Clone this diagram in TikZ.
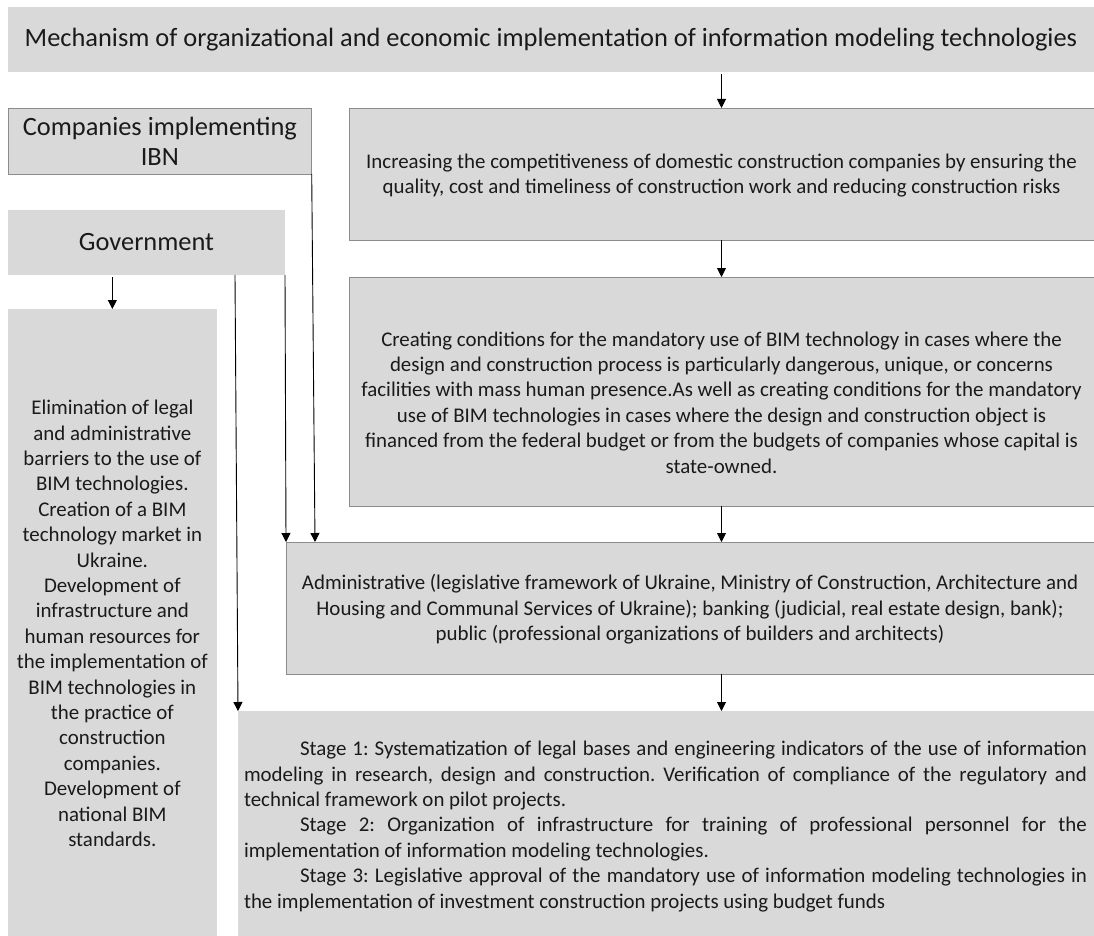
\documentclass[tikz,border=0pt]{standalone}
\usepackage{fontspec}
\setmainfont{Carlito}
\usetikzlibrary{arrows.meta}
\frenchspacing
\definecolor{boxgray}{HTML}{D9D9D9}
\definecolor{edgegray}{HTML}{8C8C8C}
\definecolor{txt}{HTML}{1A1A1A}
\newcommand{\lowered}[2]{\raisebox{-#1}[\height][\depth]{\begin{tabular}{@{}c@{}}#2\end{tabular}}}
\tikzset{
  box/.style={fill=boxgray, inner sep=0pt, outer sep=0pt, anchor=north west, text=txt},
  edged/.style={box, draw=edgegray, line width=0.9pt},
  bigtext/.style={font=\fontsize{26.4}{30}\selectfont, align=center},
  smalltext/.style={font=\fontsize{20.9}{25.4}\selectfont, align=center},
  arr/.style={-{Triangle[width=9pt,length=9pt]}, line width=0.9pt, black},
}
\begin{document}
\begin{tikzpicture}[x=1pt,y=-1pt]
\useasboundingbox (0,0) rectangle (1094,936);
\fill[white] (0,0) rectangle (1094,936);

\node[box, bigtext, minimum width=1086pt, minimum height=65pt] (title) at (8,7)
  {Mechanism of organizational and economic implementation of information modeling technologies};

\node[edged, bigtext, minimum width=303.7pt, minimum height=66pt] (comp) at (8,108)
  {Companies implementing\\IBN};

\node[box, bigtext, minimum width=277pt, minimum height=65pt] (gov) at (8,210)
  {Government};

\node[box, smalltext, minimum width=208.7pt, minimum height=627pt] (lft) at (8,309)
  {\lowered{3pt}{Elimination of legal\\and administrative\\barriers to the use of\\BIM technologies.\\Creation of a BIM\\technology market in\\Ukraine.\\Development of\\infrastructure and\\human resources for\\the implementation of\\BIM technologies in\\the practice of\\construction\\companies.\\Development of\\national BIM\\standards.}};

\node[edged, smalltext, minimum width=745pt, minimum height=132pt] (inc) at (349,108)
  {\lowered{2pt}{Increasing the competitiveness of domestic construction companies by ensuring the\\quality, cost and timeliness of construction work and reducing construction risks}};

\node[edged, smalltext, minimum width=745pt, minimum height=229pt] (cre) at (349,277)
  {\lowered{13pt}{Creating conditions for the mandatory use of BIM technology in cases where the\\design and construction process is particularly dangerous, unique, or concerns\\facilities with mass human presence.As well as creating conditions for the mandatory\\use of BIM technologies in cases where the design and construction object is\\financed from the federal budget or from the budgets of companies whose capital is\\state-owned.}};

\node[edged, smalltext, minimum width=808pt, minimum height=132pt] (adm) at (286,542)
  {\lowered{2pt}{Administrative (legislative framework of Ukraine, Ministry of Construction, Architecture and\\Housing and Communal Services of Ukraine); banking (judicial, real estate design, bank);\\public (professional organizations of builders and architects)}};

\node[box, minimum width=856pt, minimum height=225pt] (bot) at (238,711)
  {\hspace*{6pt}\begin{minipage}{843pt}\fontsize{20.9}{25.4}\selectfont
   \vspace*{6pt}%
   \setlength{\parindent}{56pt}\tolerance=10000\hyphenpenalty=10000
   Stage 1: Systematization of legal bases and engineering indicators of the use of information\linebreak
   modeling in research, design and construction. Verification of compliance of the regulatory and\linebreak
   technical framework on pilot projects.\par
   Stage 2: Organization of infrastructure for training of professional personnel for the\linebreak
   implementation of information modeling technologies.\par
   Stage 3: Legislative approval of the mandatory use of information modeling technologies in\linebreak
   the implementation of investment construction projects using budget funds\par
   \end{minipage}\hspace*{7pt}};

\draw[arr, shorten <=2pt] (title.south -| inc.north) -- (inc.north);
\draw[arr] (inc.south) -- (cre.north);
\draw[arr] (cre.south) -- (cre.south |- adm.north);
\draw[arr] (adm.south -| cre.south) -- (cre.south |- bot.north);
\draw[arr, shorten <=2pt] (lft.north |- gov.south) -- (lft.north);
\draw[arr] ([xshift=-50pt]gov.south east) -- (bot.north west);
\draw[arr] (gov.south east) -- (adm.north west);
\draw[arr] (comp.south east) -- ([xshift=29pt]adm.north west);
\end{tikzpicture}
\end{document}
